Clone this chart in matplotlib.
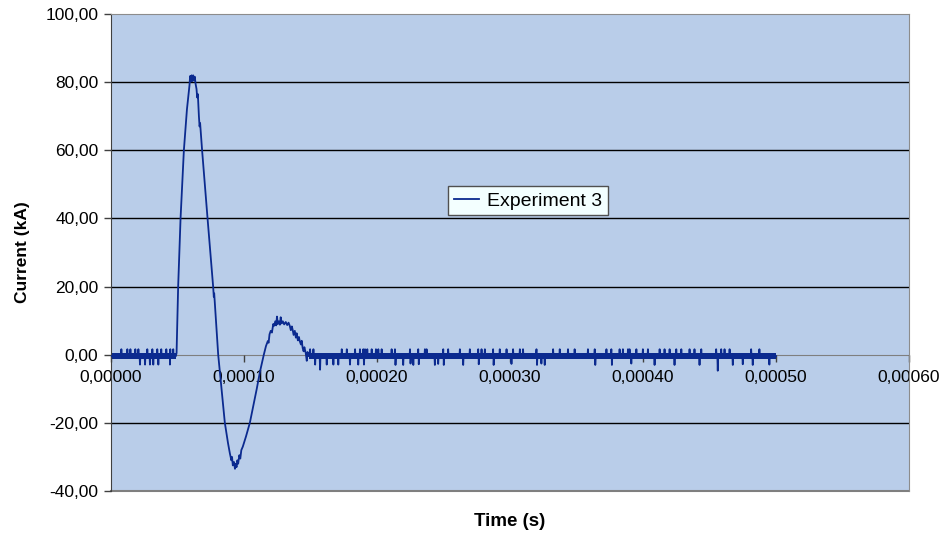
import matplotlib
matplotlib.use('Agg')
import matplotlib.pyplot as plt
from matplotlib.ticker import FuncFormatter, MultipleLocator

plt.rcParams['font.family'] = ['Liberation Sans', 'DejaVu Sans']

# pulse part of the record (time in us, current in kA)
pulse_t = [48.8, 49.3, 50.5, 52.3, 54.8, 57.1, 59.0, 59.5, 60.0, 60.6, 61.2, 61.8,
           62.4, 63.0, 63.6, 64.3, 64.8, 65.3, 66.1, 66.6, 67.0, 68.5, 72.6, 76.8,
           77.3, 77.6, 80.6, 85.6, 88.0, 89.4, 90.5, 91.0, 91.6, 92.5, 93.2, 93.8,
           94.4, 95.0, 95.6, 96.5, 97.2, 98.0, 99.1, 101.5, 104.4, 107.0, 109.6,
           112.0, 114.9, 116.5, 117.9, 118.5, 119.2, 120.1, 121.0, 122.0, 122.7,
           123.5, 124.2, 124.8, 125.4, 126.2, 127.0, 127.6, 128.3, 129.2, 130.2,
           131.4, 132.5, 133.5, 134.4, 135.2, 136.0, 136.6, 137.3, 138.2, 139.0,
           139.6, 140.5, 141.3, 141.9, 142.8, 143.4, 144.1, 144.8, 145.4, 146.4,
           147.2, 147.8, 148.6]
pulse_i = [-0.4, 0.5, 20, 40, 60, 72, 79, 81.8, 80.2, 82.0, 80.3, 82.0,
           80.5, 81.6, 79.5, 78, 75.5, 76.5, 70, 67, 68, 60, 40, 20,
           17, 18, 0, -20, -26, -29, -31, -30, -32.5, -31.5, -33.5, -32,
           -33, -31, -32, -29.5, -30.5, -28, -27, -24, -20, -15, -10,
           -5, 0, 2.5, 4, 3.5, 6, 7, 6.5, 9, 8.5,
           9.8, 8.6, 11.2, 9, 9.8, 8.8, 11, 9.2, 9.8, 8.9,
           9.6, 8.7, 9.4, 8.5, 7.2, 8.3, 7.3, 5.8, 7.0, 5.0,
           6.3, 4.2, 5.2, 4.0, 3.0, 4.1, 2.0, 1.0, 2.2, 0.5,
           -1.8, 0.8, -0.4]

# quiet baseline before and after the pulse
base_level = -0.4
band_lo, band_hi = -1.3, 0.5
pre_end, post_start, record_end = 48.8, 148.6, 500.0

# noise spikes on the baseline (us)
up_t = [7.5, 12.0, 14.3, 18.0, 20.3, 27.0, 30.8, 34.5, 37.5, 41.3, 44.3, 46.5,
        149.4, 151.9, 173.2, 177.0, 183.2, 186.9, 189.4, 190.7, 192.4, 195.7,
        198.9, 200.7, 203.2, 210.7, 213.2, 224.5, 230.7, 235.7, 237.0, 249.5,
        253.2, 262.0, 269.5, 275.8, 278.3, 280.8, 287.0, 292.0, 297.1, 302.0,
        307.1, 309.5, 319.6, 332.1, 337.1, 343.3, 348.3, 358.3, 363.4, 372.2,
        375.9, 382.1, 384.6, 388.4, 389.6, 394.7, 399.6, 403.4, 412.2, 415.9,
        419.7, 424.7, 428.5, 434.7, 438.4, 443.5, 454.7, 458.5, 461.0, 464.8,
        481.0, 487.2]
up_i = 1.6
down_t = [21.5, 25.3, 29.0, 31.5, 35.3, 44.0, 153.2, 156.9, 161.9, 166.9, 170.6,
          179.4, 185.6, 189.9, 213.6, 219.4, 224.9, 227.0, 231.1, 243.2, 245.7,
          249.9, 264.5, 276.2, 287.4, 300.8, 320.0, 323.3, 325.8, 363.8, 376.3,
          390.9, 408.4, 423.4, 442.2, 455.9, 467.2, 474.7, 482.2, 494.7]
down_i = [-2.9, -2.9, -2.9, -2.9, -2.9, -2.9, -2.9, -4.4, -2.9, -2.9, -2.9,
          -2.9, -2.9, -2.9, -3.0, -3.0, -2.6, -3.0, -2.8, -3.0, -2.7,
          -3.0, -3.0, -2.8, -3.0, -2.7, -3.0, -2.6, -3.0, -3.0, -3.0,
          -2.6, -3.0, -3.0, -3.0, -4.7, -3.0, -2.8, -3.0, -2.9]

# assemble the record in time order
pts = [(0.0, base_level), (pre_end - 0.1, base_level),
       (post_start + 0.1, base_level), (record_end, base_level)]
pts += list(zip(pulse_t, pulse_i))
for t in up_t:
    pts += [(t, base_level), (t + 0.3, up_i), (t + 0.6, base_level)]
for t, v in zip(down_t, down_i):
    pts += [(t, base_level), (t + 0.3, v), (t + 0.6, base_level)]
pts.sort(key=lambda p: p[0])
t_s = [p[0] * 1e-6 for p in pts]
cur = [p[1] for p in pts]

line_color = '#0B2A8F'

fig = plt.figure(figsize=(9.47, 5.39), dpi=100)
ax = fig.add_axes([0.1172, 0.0891, 0.8427, 0.8849])
ax.set_facecolor('#B9CDE9')

for a, b in [(0.0, pre_end), (post_start, record_end)]:
    ax.fill_between([a * 1e-6, b * 1e-6], band_lo, band_hi, color=line_color,
                    lw=0, zorder=2)
line, = ax.plot(t_s, cur, color=line_color, lw=1.3, zorder=3, label='Experiment 3')

ax.set_xlim(0, 0.0006)
ax.set_ylim(-40, 100)
ax.xaxis.set_major_locator(MultipleLocator(0.0001))
ax.yaxis.set_major_locator(MultipleLocator(20))
ax.xaxis.set_major_formatter(FuncFormatter(lambda v, p: f'{v:.5f}'.replace('.', ',')))
ax.yaxis.set_major_formatter(FuncFormatter(lambda v, p: f'{v:.2f}'.replace('.', ',')))

for y in [-20, 20, 40, 60, 80]:
    ax.axhline(y, color='black', lw=1.0, zorder=1)

ax.spines['bottom'].set_position(('data', 0))
ax.spines['bottom'].set_color('#7F7F7F')
ax.spines['bottom'].set_zorder(1)
ax.spines['left'].set_color('#404040')
ax.spines['top'].set_color('#8C8C8C')
ax.spines['right'].set_color('#8C8C8C')
ax.axhline(-40, color='#7F7F7F', lw=1.5, zorder=1, clip_on=False)

ax.tick_params(axis='x', direction='out', length=5, width=1, color='#404040',
               labelsize=12.5, pad=6)
ax.tick_params(axis='y', direction='out', length=5, width=1, color='#404040',
               labelsize=12.5, pad=4)

ax.set_xlabel('Time (s)', fontsize=13.5, fontweight='bold', labelpad=0)
ax.xaxis.set_label_coords(0.5, -0.047)
ax.set_ylabel('Current (kA)', fontsize=12.5, fontweight='bold')
ax.yaxis.set_label_coords(-0.101, 0.5)

leg = ax.legend(handles=[line], loc='upper left', bbox_to_anchor=(0.4223, 0.639),
                fontsize=14, frameon=True, fancybox=False, borderpad=0.3,
                handlelength=1.3, handletextpad=0.4, borderaxespad=0)
leg.get_frame().set_facecolor('#F3FFFF')
leg.get_frame().set_edgecolor('#505050')
leg.get_frame().set_linewidth(1.0)
leg.get_frame().set_alpha(1)

fig.savefig('out.png', dpi=100)
